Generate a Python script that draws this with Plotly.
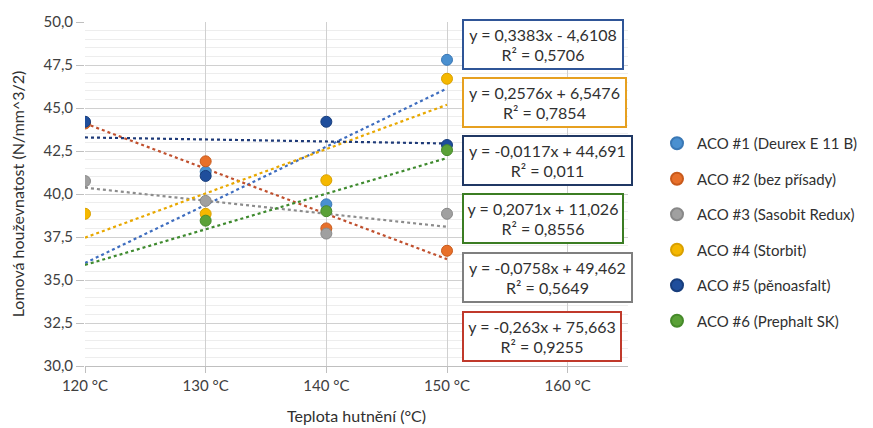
import plotly.graph_objects as go

# ---- data ----
x_temps = [120, 130, 140, 150]
series_names = ["ACO #1 (Deurex E 11 B)", "ACO #2 (bez přísady)", "ACO #3 (Sasobit Redux)",
                "ACO #4 (Storbit)", "ACO #5 (pěnoasfalt)", "ACO #6 (Prephalt SK)"]
aco1 = [None, 41.3, 39.4, 47.8]
aco2 = [44.1, 41.9, 38.0, 36.7]
aco3 = [40.75, 39.6, 37.7, 38.85]
aco4 = [38.85, 38.85, 40.8, 46.7]
aco5 = [44.2, 41.05, 44.2, 42.85]
aco6 = [None, 38.45, 39.0, 42.55]
series_values = [aco1, aco2, aco3, aco4, aco5, aco6]

# trendline coefficients as given in the chart labels
slopes = [0.3383, -0.263, -0.0758, 0.2576, -0.0117, 0.2071]
intercepts = [-4.6108, 75.663, 49.462, 6.5476, 44.691, 11.026]
r2_values = ["0,5706", "0,9255", "0,5649", "0,7854", "0,011", "0,8556"]
eq_texts = ["y = 0,3383x - 4,6108", "y = -0,263x + 75,663", "y = -0,0758x + 49,462",
            "y = 0,2576x + 6,5476", "y = -0,0117x + 44,691", "y = 0,2071x + 11,026"]

x_tickvals = [120, 130, 140, 150, 160]
x_ticktext = ["120 °C", "130 °C", "140 °C", "150 °C", "160 °C"]

# ---- styles ----
marker_colors = ["#4A90D0", "#E8702A", "#A0A0A0", "#F5B800", "#1F4E9C", "#5AA137"]
marker_edges = ["#3A78B5", "#C85A1C", "#888888", "#D9A000", "#173D7C", "#468A2A"]
trend_colors = ["#3E6DBF", "#C0502E", "#8C8C8C", "#E8A800", "#1E3A78", "#3E8A2E"]
box_colors = ["#2F5597", "#C0392B", "#7F7F7F", "#E6A020", "#203864", "#3B7D23"]
# order of boxes from top (series indices)
box_order = [0, 3, 4, 5, 2, 1]

# page body has an 8px margin; figure coordinates = reference coordinates - 8
OFF = 8
box_tops = [t - OFF for t in [19, 77, 135, 193, 252, 311]]
box_widths = [154, 157, 163, 154, 163, 152]

FONT = "Lato, Carlito, Calibri, sans-serif"
FW, FH = 873 - OFF, 428 - OFF
L, T, W, H = 85 - OFF, 22 - OFF, 543, 344

fig = go.Figure()

# trendlines
for i in range(6):
    xs = [120, 150]
    ys = [slopes[i] * xv + intercepts[i] for xv in xs]
    fig.add_trace(go.Scatter(x=xs, y=ys, mode="lines",
                             line=dict(color=trend_colors[i], width=2.2, dash="dot"),
                             showlegend=False, hoverinfo="skip"))

# points
for i in range(6):
    fig.add_trace(go.Scatter(x=x_temps, y=series_values[i], mode="markers",
                             name=series_names[i], legendgroup=str(i),
                             marker=dict(size=11, color=marker_colors[i],
                                         line=dict(color=marker_edges[i], width=1))))

# equation boxes
for k, si in enumerate(box_order):
    top = box_tops[k]
    fig.add_annotation(
        xref="paper", yref="paper",
        x=(462 - OFF - L) / W, y=1 - (top - T) / H,
        xanchor="left", yanchor="top",
        text=f"{eq_texts[si]}<br>R² = {r2_values[si]}",
        showarrow=False, align="center",
        font=dict(family=FONT, size=16, color="#303030"),
        bgcolor="white", bordercolor=box_colors[si], borderwidth=2,
        width=box_widths[k], height=43, borderpad=2)

fig.update_layout(
    width=FW, height=FH,
    margin=dict(l=L, r=FW - L - W, t=T, b=FH - T - H, autoexpand=False),
    paper_bgcolor="white", plot_bgcolor="white",
    separators=", ",
    font=dict(family=FONT, size=15, color="#404040"),
    showlegend=True,
    legend=dict(x=(657 - OFF - L) / W, y=1 - (127 - OFF - T) / H, xanchor="left", yanchor="top",
                font=dict(family=FONT, size=15, color="#303030"),
                tracegroupgap=13, itemsizing="constant", bgcolor="rgba(0,0,0,0)"),
    xaxis=dict(range=[120, 165], tickvals=x_tickvals, ticktext=x_ticktext,
               automargin=False,
               showgrid=True, gridcolor="#D0D0D0", gridwidth=1,
               showline=True, linecolor="#BFBFBF", linewidth=1,
               ticks="outside", ticklen=6, tickcolor="#BFBFBF",
               zeroline=False,
               title=dict(text="Teplota hutnění (°C)", font=dict(family=FONT, size=16, color="#303030"),
                          standoff=17),
               tickfont=dict(family=FONT, size=15, color="#404040")),
    yaxis=dict(range=[30, 50], dtick=2.5, tickformat=".1f",
               automargin=False,
               showgrid=True, gridcolor="#D0D0D0", gridwidth=1,
               minor=dict(dtick=0.5, showgrid=True, gridcolor="#EDEDED", gridwidth=1),
               showline=False,
               ticks="outside", ticklen=8, tickcolor="#BFBFBF",
               zeroline=False,
               title=dict(text="Lomová houževnatost (N/mm^3/2)",
                          font=dict(family=FONT, size=16, color="#303030"), standoff=14),
               tickfont=dict(family=FONT, size=15, color="#404040")),
)

fig.write_html("out.html")
